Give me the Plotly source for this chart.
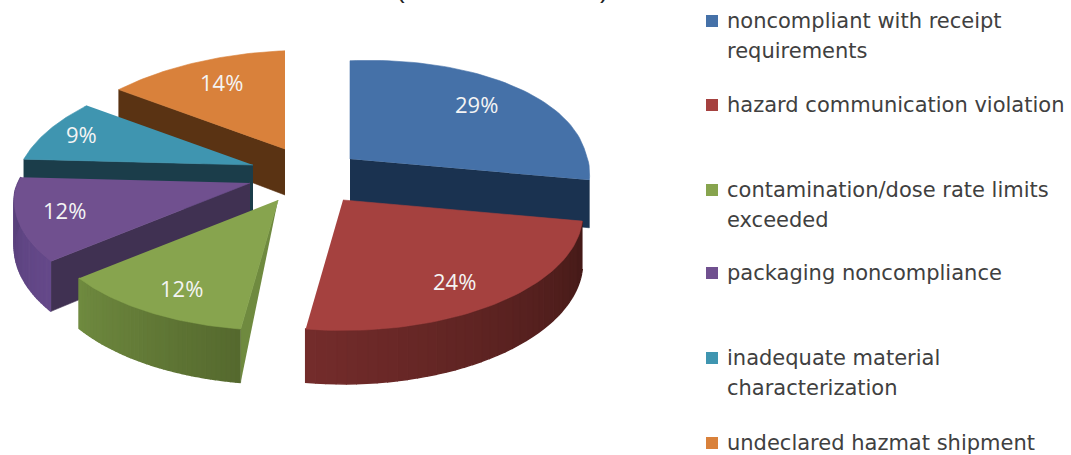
import numpy as np
import plotly.graph_objects as go

# ---------- data ----------
categories = [
    "noncompliant with receipt<br>requirements",
    "hazard communication violation",
    "contamination/dose rate limits<br>exceeded",
    "packaging noncompliance",
    "inadequate material<br>characterization",
    "undeclared hazmat shipment",
]
values = [29, 24, 12, 12, 9, 14]

# ---------- layout / style ----------
TOP = ["#4571a8", "#a5413f", "#87a44e", "#70508f", "#3f95b0", "#d9813b"]
SIDE = ["#1a3250", "#6e2a29", "#6f8a3f", "#403152", "#1b3d4a", "#5a3313"]
RIM_A = [None, "#742c2b", "#6f8a3f", "#65498a", None, None]
RIM_B = [None, "#431917", "#55692e", "#58407a", None, None]
RIM_FLIP = [False, True, True, False, False, False]
FACE = ["end", None, "start", "start", "start", "start"]
FACE_TAPER = [False, False, True, False, False, False]
APEX = [(350, 159), (343, 200), (278, 200), (250, 183), (253, 165), (285, 149)]
LABEL_FX = [0.74, 0.72, 0.74, 0.80, 0.84, 0.72]
LABEL_FY = [0.79, 0.79, 0.79, 0.74, 0.88, 0.78]
RX, RY, K, DEPTH = 235, 112, 0.14, 46
SHEAR, TILT = 14, 8
PAINT = [5, 4, 0, 3, 2, 1]
LEG_Y = [21, 105, 190, 273, 358, 443]
LEG_COLORS = ["#4571a8", "#a5413f", "#87a44e", "#70508f", "#3f95b0", "#d9813b"]
LINE_GAP = 30


def hex_mix(a, b, t):
    ca = [int(a[i:i + 2], 16) for i in (1, 3, 5)]
    cb = [int(b[i:i + 2], 16) for i in (1, 3, 5)]
    return "#%02x%02x%02x" % tuple(round(p + (q - p) * t) for p, q in zip(ca, cb))


def rim(apex, theta):
    y = -np.cos(theta)
    s = 1 / (1 - K * y)
    return (apex[0] + RX * np.sin(theta) * s + SHEAR * max(y, 0),
            apex[1] + RY * y * s - TILT * np.sin(theta),
            DEPTH * s)


fig = go.Figure()


def poly(xs, ys, color, w=0.6):
    fig.add_trace(go.Scatter(x=xs, y=ys, mode="lines", fill="toself", fillcolor=color,
                             line=dict(color=color, width=w), hoverinfo="skip",
                             showlegend=False))


total = sum(values)
edges = np.cumsum([0] + values) / total * 2 * np.pi
for i in PAINT:
    a0, a1 = edges[i], edges[i + 1]
    apex = APEX[i]
    if FACE[i]:
        ang = a0 if FACE[i] == "start" else a1
        cx, cy, d = rim(apex, ang)
        if FACE_TAPER[i]:
            poly([apex[0], cx, cx], [apex[1], cy, cy + d], SIDE[i])
        else:
            poly([apex[0], cx, cx, apex[0]], [apex[1], cy, cy + d, apex[1] + DEPTH], SIDE[i])
    if RIM_A[i]:
        n = 40
        th = np.linspace(a0, a1, n + 1)
        for j in range(n):
            pts = [rim(apex, t) for t in (th[j], th[j + 1])]
            xs = [pts[0][0], pts[1][0], pts[1][0], pts[0][0]]
            ys = [pts[0][1], pts[1][1], pts[1][1] + pts[1][2], pts[0][1] + pts[0][2]]
            t = (j + 0.5) / n
            if RIM_FLIP[i]:
                t = 1 - t
            poly(xs, ys, hex_mix(RIM_A[i], RIM_B[i], t), w=1.5)
    tt = np.linspace(a0, a1, 60)
    pts = [rim(apex, t) for t in tt]
    poly([apex[0]] + [p[0] for p in pts], [apex[1]] + [p[1] for p in pts], TOP[i])

annotations = []
for i, v in enumerate(values):
    mid = (edges[i] + edges[i + 1]) / 2
    x, y, _ = rim(APEX[i], mid)
    annotations.append(dict(x=APEX[i][0] + (x - APEX[i][0]) * LABEL_FX[i],
                            y=APEX[i][1] + (y - APEX[i][1]) * LABEL_FY[i],
                            text=f"{v}%", showarrow=False,
                            font=dict(family="Open Sans", size=22, color="#f4f4f4")))

fig.add_trace(go.Scatter(x=[712] * 6, y=LEG_Y, mode="markers", hoverinfo="skip", showlegend=False,
                         marker=dict(symbol="square", size=12, color=LEG_COLORS)))
for c, y in zip(categories, LEG_Y):
    for k, line in enumerate(c.split("<br>")):
        annotations.append(dict(x=725, y=y + k * LINE_GAP, text=line, xanchor="left", yanchor="middle",
                                align="left", showarrow=False,
                                font=dict(family="DejaVu Sans", size=21, color="#404040")))

for ch, x in (("(", 400), (")", 604)):
    annotations.append(dict(x=x, y=6, text=ch, showarrow=False, yanchor="bottom",
                            font=dict(family="Liberation Sans", size=26, color="#222222")))

fig.update_layout(
    width=1071, height=455, margin=dict(l=0, r=0, t=0, b=0),
    paper_bgcolor="white", plot_bgcolor="white", annotations=annotations,
    xaxis=dict(range=[0, 1071], visible=False, fixedrange=True),
    yaxis=dict(range=[455, 0], visible=False, fixedrange=True),
    showlegend=False,
)
fig.write_html("out.html", post_script="document.body.style.margin='0';document.documentElement.style.overflow='hidden';",
               config={"displayModeBar": False})
